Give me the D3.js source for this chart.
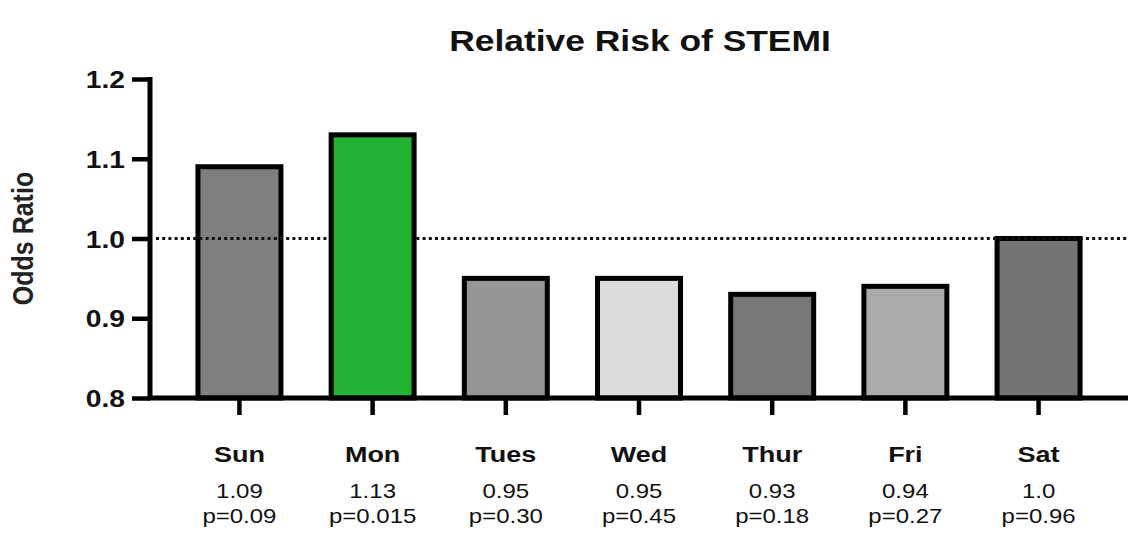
<!DOCTYPE html>
<html>
<head>
<meta charset="utf-8">
<script src="https://cdn.jsdelivr.net/npm/d3@7"></script>
<style>
  body { margin: 0; background: #fff; }
  svg text { font-family: "Liberation Sans", Arial, sans-serif; fill: #111; }
</style>
</head>
<body>
<div id="chart"></div>
<script>
(function(){
    /* global d3 */
    var days = ['Sun', 'Mon', 'Tues', 'Wed', 'Thur', 'Fri', 'Sat'];
    var oddsRatios = [1.09, 1.13, 0.95, 0.95, 0.93, 0.94, 1.00];
    var valueLabels = ['1.09', '1.13', '0.95', '0.95', '0.93', '0.94', '1.0'];
    var pLabels = ['p=0.09', 'p=0.015', 'p=0.30', 'p=0.45', 'p=0.18', 'p=0.27', 'p=0.96'];
    var fills = ['#7f7f7f', '#22b133', '#969696', '#dcdcdc', '#777777', '#aaaaaa', '#747474'];
    var yTicks = [0.8, 0.9, 1.0, 1.1, 1.2];

    var W = 1135, H = 542;
    var SX = 1.2; // the source picture is a bit stretched sideways
    var svg = d3.select('#chart').append('svg')
        .attr('width', W).attr('height', H);

    var y = d3.scaleLinear().domain([0.8, 1.2]).range([398, 79]);
    var x = d3.scaleBand().domain(days).range([150, 1128]).paddingInner(0.377).paddingOuter(0.36);

    // stretched text helper
    function label(g, px, py, txt, size, bold, anchor){
        return g.append('text')
            .attr('transform', 'translate(' + px + ',' + py + ') scale(' + SX + ',1)')
            .attr('text-anchor', anchor || 'middle')
            .attr('font-size', size)
            .attr('font-weight', bold ? 'bold' : 'normal')
            .text(txt);
    }

    // bars
    var bars = svg.selectAll('rect.bar')
        .data(days).enter()
        .append('rect')
        .attr('class', 'bar')
        .attr('x', d => x(d))
        .attr('width', x.bandwidth())
        .attr('y', (d, i) => y(oddsRatios[i]))
        .attr('height', (d, i) => y(0.8) - y(oddsRatios[i]))
        .attr('fill', (d, i) => fills[i])
        .attr('stroke', '#000')
        .attr('stroke-width', 5);

    // reference line at 1.0 (sits over the grey bars, under Monday)
    svg.append('line')
        .attr('x1', 156).attr('x2', 1128)
        .attr('y1', y(1.0)).attr('y2', y(1.0))
        .attr('stroke', '#111').attr('stroke-width', 3)
        .attr('stroke-dasharray', '3,3.2');
    bars.filter(d => d === 'Mon').raise();

    // y axis
    var yAxis = svg.append('g')
        .attr('transform', 'translate(150,0)')
        .call(d3.axisLeft(y).tickValues(yTicks).tickFormat(d3.format('.1f')).tickSize(18));
    yAxis.select('.domain').attr('stroke', '#000').attr('stroke-width', 5)
        .attr('d', 'M0,' + (y(1.2) - 2) + 'V' + y(0.8));
    yAxis.selectAll('.tick line').attr('stroke', '#000').attr('stroke-width', 4.5);
    yAxis.selectAll('.tick text')
        .attr('x', null)
        .attr('transform', 'translate(-25,1) scale(' + SX + ',1)')
        .attr('font-size', 23.5).attr('font-weight', 'bold')
        .style('font-family', '"Liberation Sans", Arial, sans-serif')
        .style('fill', '#111');

    // x axis
    var xAxis = svg.append('g')
        .attr('transform', 'translate(0,' + y(0.8) + ')')
        .call(d3.axisBottom(x).tickSize(17).tickFormat(''));
    xAxis.select('.domain').attr('stroke', '#000').attr('stroke-width', 5)
        .attr('d', 'M148,0H1128');
    xAxis.selectAll('.tick line').attr('stroke', '#000').attr('stroke-width', 4.5);

    // category labels and stats
    var labels = svg.append('g');
    days.forEach(function(d, i){
        var cx = x(d) + x.bandwidth() / 2;
        label(labels, cx, 461.5, d, 22.5, true);
        label(labels, cx, 498, valueLabels[i], 20, false);
        label(labels, cx, 522.5, pLabels[i], 20, false);
    });

    // title
    label(svg, 640, 51, 'Relative Risk of STEMI', 29.5, true);

    // y label
    svg.append('text')
        .attr('transform', 'translate(33,' + y(1.0) + ') scale(' + SX + ',1) rotate(-90)')
        .attr('text-anchor', 'middle')
        .attr('font-size', 25).attr('font-weight', 'bold')
        .style('fill', '#222')
        .text('Odds Ratio');
})();
</script>
</body>
</html>
